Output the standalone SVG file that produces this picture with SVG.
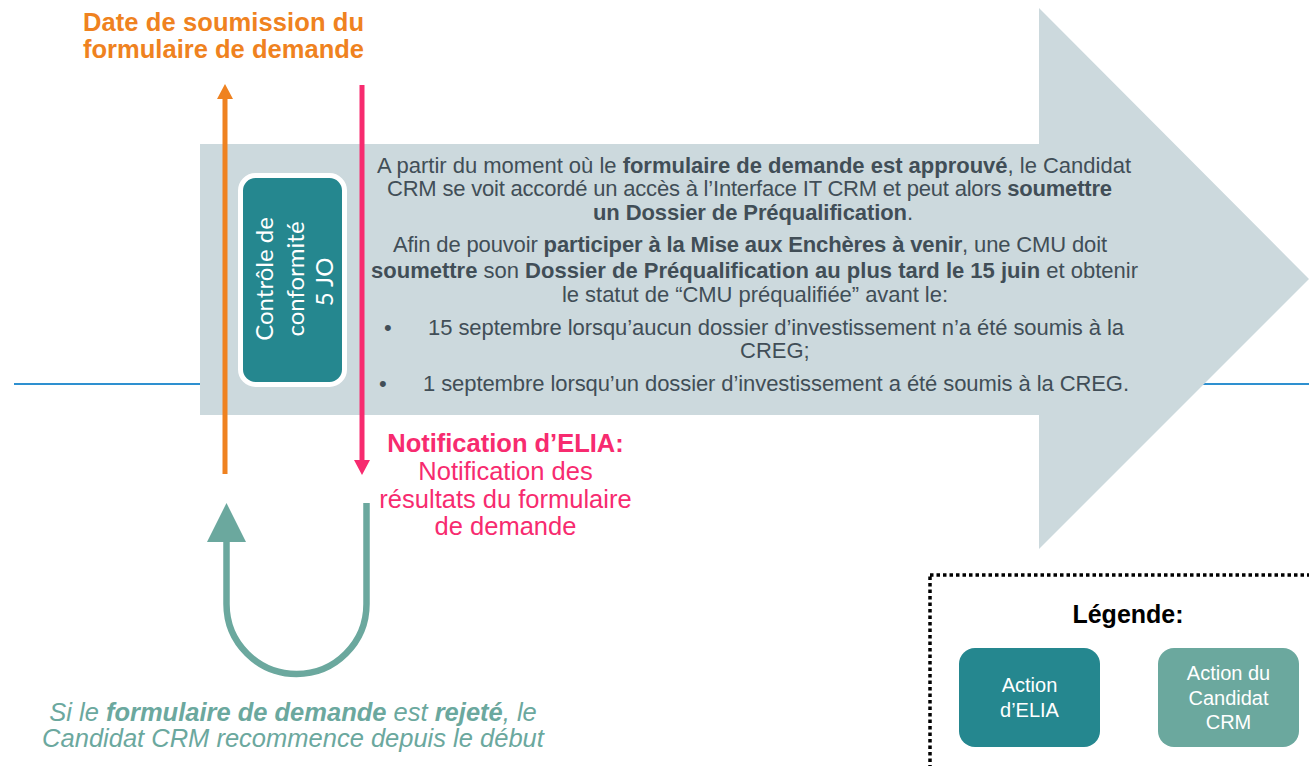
<svg xmlns="http://www.w3.org/2000/svg" width="1309" height="766" viewBox="0 0 1309 766">
<style>
text{font-family:"Liberation Sans",Arial,sans-serif}
.b{font-weight:bold}
.main{font-size:22px;fill:#414E57}
.orange{fill:#EF8220;font-size:25.5px;font-weight:bold}
.pink{fill:#F72B6F;font-size:25.5px}
.teal{fill:#6BA89E;font-size:25.5px;font-style:italic}
.white{fill:#FFFFFF;font-size:20px}
.rot{font-family:Lato,"Liberation Sans",sans-serif;font-size:24px;fill:#FFFFFF}
.box-dark{fill:#25878F}
.box-light{fill:#6BA89E}
</style>
<defs>
<marker id="mOrange" markerUnits="userSpaceOnUse" markerWidth="15" markerHeight="16" refX="0" refY="8" orient="auto" viewBox="0 0 15 16"><path d="M0,0 L15,8 L0,16 z" fill="#EF8220"/></marker>
<marker id="mPink" markerUnits="userSpaceOnUse" markerWidth="15" markerHeight="16" refX="0" refY="8" orient="auto" viewBox="0 0 15 16"><path d="M0,0 L15,8 L0,16 z" fill="#F72B6F"/></marker>
<marker id="mTeal" markerUnits="userSpaceOnUse" markerWidth="39" markerHeight="39" refX="0" refY="19.5" orient="auto" viewBox="0 0 39 39"><path d="M0,0 L39,19.5 L0,39 z" fill="#6BA89E"/></marker>
</defs>
<rect width="1309" height="766" fill="#FFFFFF"/>
<g id="timeline">
<line x1="14" y1="384" x2="1309" y2="384" stroke="#2E90D0" stroke-width="2"/>
</g>
<g id="big-arrow">
<polygon points="200,144 1039,144 1039,8 1309,279 1039,549 1039,415 200,415" fill="#CCD9DD"/>
<text class="main" x="377" y="173" textLength="754" lengthAdjust="spacing">A partir du moment où le <tspan class="b">formulaire de demande est approuvé</tspan>, le Candidat</text>
<text class="main" x="387" y="196" textLength="725" lengthAdjust="spacing">CRM se voit accordé un accès à l’Interface IT CRM et peut alors <tspan class="b">soumettre</tspan></text>
<text class="main" x="593" y="220" textLength="320" lengthAdjust="spacing"><tspan class="b">un Dossier de Préqualification</tspan>.</text>
<text class="main" x="393" y="252" textLength="714" lengthAdjust="spacing">Afin de pouvoir <tspan class="b">participer à la Mise aux Enchères à venir</tspan>, une CMU doit</text>
<text class="main" x="371" y="278" textLength="767" lengthAdjust="spacing"><tspan class="b">soumettre</tspan> son <tspan class="b">Dossier de Préqualification au plus tard le 15 juin</tspan> et obtenir</text>
<text class="main" x="562" y="302" textLength="386" lengthAdjust="spacing">le statut de “CMU préqualifiée” avant le:</text>
<text class="main" x="384" y="335">•</text>
<text class="main" x="428" y="335" textLength="696" lengthAdjust="spacing">15 septembre lorsqu’aucun dossier d’investissement n’a été soumis à la</text>
<text class="main" x="740" y="358">CREG;</text>
<text class="main" x="379" y="391">•</text>
<text class="main" x="423" y="391" textLength="706" lengthAdjust="spacing">1 septembre lorsqu’un dossier d’investissement a été soumis à la CREG.</text>
</g>
<g id="controle">
<rect x="240.5" y="175.5" width="104" height="209" rx="15" class="box-dark" stroke="#FFFFFF" stroke-width="5"/>
<g transform="translate(290,279) rotate(-90)">
<text class="rot" x="0" y="-17" text-anchor="middle">Contrôle de</text>
<text class="rot" x="0" y="14" text-anchor="middle">conformité</text>
<text class="rot" x="-3" y="43" text-anchor="middle">5 JO</text>
</g>
</g>
<g id="connectors">
<line x1="225" y1="474" x2="225" y2="99" stroke="#EF8220" stroke-width="5" marker-end="url(#mOrange)"/>
<line x1="362" y1="85" x2="362" y2="460" stroke="#F72B6F" stroke-width="5" marker-end="url(#mPink)"/>
<path d="M366.5,503 V604 A70,70 0 0 1 226.5,604 V542" fill="none" stroke="#6BA89E" stroke-width="6.5" marker-end="url(#mTeal)"/>
</g>
<g id="date-soumission">
<text class="orange" x="364" y="31" text-anchor="end" textLength="281" lengthAdjust="spacing">Date de soumission du</text>
<text class="orange" x="364" y="58" text-anchor="end" textLength="281" lengthAdjust="spacing">formulaire de demande</text>
</g>
<g id="notification">
<text class="pink b" x="505.5" y="452" text-anchor="middle">Notification d’ELIA:</text>
<text class="pink" x="505.5" y="480" text-anchor="middle">Notification des</text>
<text class="pink" x="505.5" y="508" text-anchor="middle">résultats du formulaire</text>
<text class="pink" x="505.5" y="535" text-anchor="middle">de demande</text>
</g>
<g id="rejet">
<text class="teal" x="293" y="721" text-anchor="middle">Si le <tspan class="b">formulaire de demande</tspan> est <tspan class="b">rejeté</tspan>, le</text>
<text class="teal" x="293" y="747" text-anchor="middle">Candidat CRM recommence depuis le début</text>
</g>
<g id="legende">
<rect x="930" y="575" width="400" height="220" fill="none" stroke="#000000" stroke-width="3.5" stroke-dasharray="3.5 3"/>
<text x="1128" y="623" text-anchor="middle" style="font-size:25px;font-weight:bold;fill:#000000">Légende:</text>
<g id="legend-elia">
<rect x="959" y="648" width="141" height="99" rx="16" class="box-dark"/>
<text class="white" x="1029.5" y="692" text-anchor="middle">Action</text>
<text class="white" x="1029.5" y="717" text-anchor="middle">d’ELIA</text>
</g>
<g id="legend-candidat">
<rect x="1158" y="648" width="141" height="99" rx="16" class="box-light"/>
<text class="white" x="1228.5" y="680" text-anchor="middle">Action du</text>
<text class="white" x="1228.5" y="705" text-anchor="middle">Candidat</text>
<text class="white" x="1228.5" y="729" text-anchor="middle">CRM</text>
</g>
</g>
</svg>
